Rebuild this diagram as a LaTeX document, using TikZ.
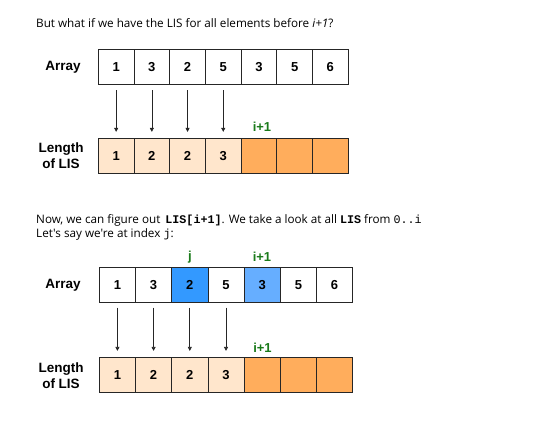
\documentclass[tikz,border=0pt]{standalone}
\usepackage{fontspec}
\setmainfont{Liberation Sans}
\newfontfamily\txtfont{Open Sans}
\setmonofont{Liberation Mono}
\usetikzlibrary{arrows.meta}
\definecolor{peach}{HTML}{FFE6CC}
\definecolor{orng}{HTML}{FFAD5C}
\definecolor{bluej}{HTML}{3399FF}
\definecolor{bluei}{HTML}{66AEFF}
\definecolor{grn}{HTML}{1A7A1A}
\tikzset{
  cell/.style={draw=black!85, line width=0.8pt, minimum height=35pt, inner sep=0pt, font=\bfseries\fontsize{13}{14}\selectfont},
  lbl/.style={font=\bfseries\fontsize{13.5}{16}\selectfont, align=center, inner sep=0pt},
  idxlabel/.style={font=\bfseries\fontsize{13}{14}\selectfont, text=grn, inner sep=0pt},
  txt/.style={font=\txtfont\fontsize{11.7}{13}\selectfont, anchor=base west, inner sep=0pt},
  arr/.style={-{Triangle[width=4pt,length=4pt]}, line width=0.7pt, draw=black!85},
}
\begin{document}
\begin{tikzpicture}[x=1pt,y=-1pt]
\useasboundingbox (0,0) rectangle (559,435);
% text
\node[txt] (t1) at (36,28) {But what if we have the LIS for all elements before \textit{i+1}?};
\node[txt] (t2) at (36,224) {Now, we can figure out \,{\ttfamily\bfseries LIS[i+1]}. We take a look at all {\ttfamily\bfseries LIS} from {\ttfamily 0..i}};
\node[txt] (t3) at (36,237.8) {Let's say we're at index {\ttfamily j}:};
% diagram 1
\node[lbl] (arrA) at (63,67.2) {Array};
\node[lbl] (lenA) at (61,156) {Length\\of LIS};
\foreach \v [count=\i] in {1,3,2,5,3,5,6}
  \node[cell, minimum width=35.7pt, fill=white] (a\i) at ({98.3+(\i-0.5)*35.7},67.2) {\v};
\foreach \v [count=\i] in {1,2,2,3}
  \node[cell, minimum width=35.7pt, fill=peach] (l\i) at ({98.3+(\i-0.5)*35.7},155.8) {\v};
\foreach \i in {5,6,7}
  \node[cell, minimum width=35.7pt, fill=orng] (l\i) at ({98.3+(\i-0.5)*35.7},155.8) {};
\foreach \i in {1,2,3,4}
  \draw[arr] ([yshift=-5pt]a\i.south) -- ([yshift=6pt]l\i.north);
\node[idxlabel] (m1) at (262,127) {i+1};
% diagram 2
\node[lbl] (arrB) at (63,285.5) {Array};
\node[lbl] (lenB) at (61,375.3) {Length\\of LIS};
\foreach \v [count=\i] in {1,3,2,5,3,5,6}
  \node[cell, minimum width=36.2pt, fill=white] (b\i) at ({99.3+(\i-0.5)*36.2},284.8) {\v};
\node[cell, minimum width=36.2pt, fill=bluej] (bj) at (b3) {2};
\node[cell, minimum width=36.2pt, fill=bluei] (bi) at (b5) {3};
\foreach \v [count=\i] in {1,2,2,3}
  \node[cell, minimum width=36.2pt, fill=peach] (k\i) at ({99.3+(\i-0.5)*36.2},374.8) {\v};
\foreach \i in {5,6,7}
  \node[cell, minimum width=36.2pt, fill=orng] (k\i) at ({99.3+(\i-0.5)*36.2},374.8) {};
\foreach \i in {1,2,3,4}
  \draw[arr] ([yshift=-5pt]b\i.south) -- ([yshift=6pt]k\i.north);
\node[idxlabel] (mj) at (190,257) {j};
\node[idxlabel] (m2) at (262,257) {i+1};
\node[idxlabel] (m3) at (262.5,348) {i+1};
\end{tikzpicture}
\end{document}
